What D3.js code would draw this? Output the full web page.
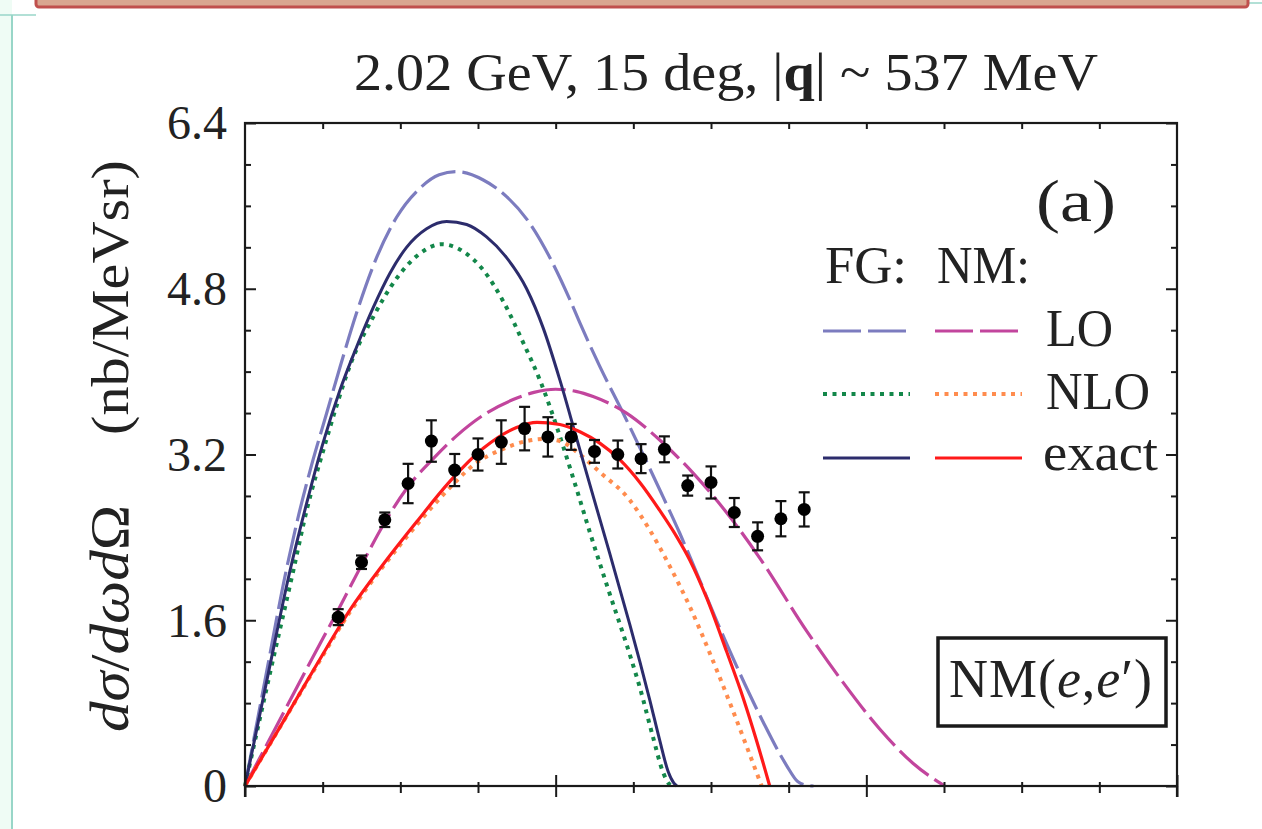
<!DOCTYPE html>
<html><head><meta charset="utf-8">
<script src="https://cdnjs.cloudflare.com/ajax/libs/d3/7.8.5/d3.min.js"></script>
<style>
html,body{margin:0;padding:0;background:#fff;}
svg{display:block;}
text{font-family:"Liberation Serif","Times New Roman",serif;fill:#222;}
</style></head>
<body>
<svg id="chart" width="1262" height="829"></svg>
<script>
// ---- data (omega in MeV, cross section in nb/MeV sr) ----
const fgLO = [[0,0],[13,1.03],[26.8,2.1],[34.3,2.6],[42.9,3.1],[52.6,3.6],[61.1,4.04],[71.9,4.57],[84.7,5.1],[97.6,5.49],[112.6,5.77],[125,5.9],[136.2,5.93],[153.4,5.85],[168.4,5.69],[183.4,5.43],[196.3,5.1],[209,4.7],[215.6,4.47],[228.4,4.05],[243.4,3.6],[256.3,3.2],[267,2.86],[279.9,2.44],[290.7,2.06],[303.5,1.6],[318.5,1.09],[333.5,0.62],[348.6,0.2],[356,0.04],[362,0.005],[366,0]];
const fgNLO = [[0,0],[15.5,1.05],[31.1,2.08],[40,2.68],[50.4,3.24],[60,3.72],[67.6,4.06],[82.6,4.53],[97.6,4.9],[112.6,5.14],[126.6,5.23],[140.5,5.16],[153.4,4.98],[166.2,4.68],[179.1,4.28],[189.8,3.92],[196.3,3.66],[204.8,3.28],[213.4,2.87],[222,2.45],[232.7,1.95],[247.7,1.27],[254.2,0.95],[262.7,0.47],[269.2,0.13],[273,0.02],[275,0]];
const fgExact = [[0,0],[14.5,1.05],[29,2.08],[39.7,2.73],[50.4,3.32],[61.1,3.82],[71.9,4.24],[82.6,4.62],[93.3,4.95],[104,5.2],[116.9,5.38],[129.8,5.45],[142.7,5.42],[155.5,5.3],[168.4,5.1],[181.3,4.8],[192,4.42],[202.7,3.92],[213.4,3.36],[224.1,2.8],[234.9,2.24],[247.7,1.56],[254.2,1.2],[260.6,0.83],[267,0.44],[272.4,0.14],[276,0.03],[278,0]];
const nmLO = [[0,0],[20,0.57],[40,1.14],[60,1.7],[74.6,2.12],[89,2.52],[104,2.87],[121.2,3.16],[136.2,3.38],[155.5,3.6],[172.6,3.73],[186,3.8],[200,3.83],[213,3.81],[224.1,3.76],[245.6,3.6],[267,3.34],[288.5,3.02],[310,2.64],[331.4,2.2],[361.4,1.5],[385,1.0],[408.6,0.55],[430,0.22],[450.4,0]];
const nmNLO = [[0,0],[23,0.58],[46.1,1.16],[67.6,1.68],[89,2.12],[110.5,2.52],[131.9,2.88],[149,3.12],[164,3.24],[181.3,3.33],[192,3.35],[202.7,3.33],[215.6,3.2],[228.4,3.03],[247.7,2.76],[260.6,2.47],[273.5,2.12],[286.4,1.73],[299.3,1.28],[312.2,0.8],[323,0.38],[332.6,0]];
const nmExact = [[0,0],[23,0.58],[46.1,1.17],[67.6,1.7],[89,2.14],[110.5,2.55],[131.9,2.94],[153.4,3.26],[174.8,3.46],[188,3.51],[202.7,3.49],[215.6,3.42],[228.4,3.31],[241.3,3.15],[254.2,2.93],[267,2.66],[277.8,2.41],[286.4,2.18],[297.1,1.82],[310,1.3],[320.7,0.85],[329.3,0.44],[337.8,0]];

const dataOmega = [60,75,90,105,120,135,150,165,180,195,210,225,240,255,270,285,300,315,330,345,360];
const dataSigma = [1.63,2.16,2.57,2.92,3.33,3.05,3.20,3.32,3.45,3.37,3.37,3.23,3.20,3.16,3.25,2.90,2.93,2.64,2.41,2.58,2.67];
const dataError = [0.077,0.065,0.07,0.19,0.2,0.155,0.155,0.21,0.21,0.19,0.125,0.11,0.135,0.14,0.125,0.097,0.155,0.14,0.135,0.17,0.165];

const yMajorTicks = [0,1.6,3.2,4.8,6.4];
const yTickLabels = ["0","1.6","3.2","4.8","6.4"];
const xMajorTicks = [0,200,400,600];

const legendRows = ["LO","NLO","exact"];

// ---- layout ----
const svg = d3.select("#chart");
const L = 245, R = 1177, T = 123, B = 786;
const x = d3.scaleLinear().domain([0,600]).range([L,R]);
const y = d3.scaleLinear().domain([0,6.4]).range([B,T]);

// page decoration
svg.append("rect").attr("x",0).attr("y",0).attr("width",12).attr("height",829).attr("fill","#effcf5");
svg.append("line").attr("x1",12).attr("x2",12).attr("y1",15).attr("y2",829).attr("stroke","#98d6c8").attr("stroke-width",2);
svg.append("line").attr("x1",0).attr("x2",36).attr("y1",15).attr("y2",15).attr("stroke","#98d6c8").attr("stroke-width",1.5);
svg.append("line").attr("x1",1248).attr("x2",1262).attr("y1",3).attr("y2",3).attr("stroke","#98d6c8").attr("stroke-width",1.5);
svg.append("rect").attr("x",36).attr("y",-8).attr("width",1212).attr("height",15).attr("rx",3)
  .attr("fill","#d9a690").attr("stroke","#c0504d").attr("stroke-width",3);

const styles = {
  fgLO:   {c:"#7c7cbf", dash:"38,7", w:3.2},
  fgNLO:  {c:"#13874a", dash:"4,5.5", w:4},
  fgExact:{c:"#2c2c6c", dash:null, w:3},
  nmLO:   {c:"#c2459d", dash:"38,7", w:3.2},
  nmNLO:  {c:"#ff8c4e", dash:"4,5.5", w:4},
  nmExact:{c:"#ff1a1a", dash:null, w:3.2}
};

const line = d3.line().x(d=>x(d[0])).y(d=>y(d[1])).curve(d3.curveMonotoneX);
const curves = [["fgLO",fgLO],["nmLO",nmLO],["fgNLO",fgNLO],["nmNLO",nmNLO],["fgExact",fgExact],["nmExact",nmExact]];
const gc = svg.append("g");
curves.forEach(([k,arr])=>{
  const s = styles[k];
  gc.append("path").datum(arr).attr("d",line).attr("fill","none")
    .attr("stroke",s.c).attr("stroke-width",s.w)
    .attr("stroke-dasharray",s.dash)
    .attr("stroke-linejoin","round");
});

// data points
const gp = svg.append("g");
dataOmega.forEach((w,i)=>{
  const cx = x(w), y1 = y(dataSigma[i]-dataError[i]), y2 = y(dataSigma[i]+dataError[i]);
  gp.append("line").attr("x1",cx).attr("x2",cx).attr("y1",y1).attr("y2",y2).attr("stroke","#111").attr("stroke-width",2.2);
  gp.append("line").attr("x1",cx-5.5).attr("x2",cx+5.5).attr("y1",y1).attr("y2",y1).attr("stroke","#111").attr("stroke-width",2.2);
  gp.append("line").attr("x1",cx-5.5).attr("x2",cx+5.5).attr("y1",y2).attr("y2",y2).attr("stroke","#111").attr("stroke-width",2.2);
  gp.append("circle").attr("cx",cx).attr("cy",y(dataSigma[i])).attr("r",6.5).attr("fill","#000");
});

// axes
const minorX = d3.range(0,601,50).filter(v=>!xMajorTicks.includes(v));
const minorY = d3.range(0,6.41,0.4).map(v=>+v.toFixed(1)).filter(v=>!yMajorTicks.includes(v));
function styleAxis(g){ g.select(".domain").remove(); g.selectAll("line").attr("stroke","#1a1a1a").attr("stroke-width",2); }
// bottom
svg.append("g").attr("transform",`translate(0,${B})`).call(d3.axisBottom(x).tickValues(minorX).tickSize(7).tickFormat("")).call(styleAxis);
svg.append("g").attr("transform",`translate(0,${B})`).call(d3.axisBottom(x).tickValues(minorX).tickSize(-4).tickFormat("")).call(styleAxis);
svg.append("g").attr("transform",`translate(0,${B})`).call(d3.axisBottom(x).tickValues(xMajorTicks).tickSize(11).tickFormat("")).call(styleAxis);
svg.append("g").attr("transform",`translate(0,${B})`).call(d3.axisBottom(x).tickValues(xMajorTicks).tickSize(-11).tickFormat("")).call(styleAxis);
// top
svg.append("g").attr("transform",`translate(0,${T})`).call(d3.axisTop(x).tickValues(d3.range(50,600,50)).tickSize(-6).tickFormat("")).call(styleAxis);
// left
svg.append("g").attr("transform",`translate(${L},0)`).call(d3.axisLeft(y).tickValues(minorY).tickSize(-6).tickFormat("")).call(styleAxis);
const gl = svg.append("g").attr("transform",`translate(${L},0)`)
  .call(d3.axisLeft(y).tickValues(yMajorTicks).tickSize(-11).tickPadding(18).tickFormat((d,i)=>yTickLabels[i]))
  .call(styleAxis);
gl.selectAll("text").attr("font-family","Liberation Serif").attr("font-size",48).attr("fill","#222").attr("dy","0.33em");
// right
svg.append("g").attr("transform",`translate(${R},0)`).call(d3.axisRight(y).tickValues(minorY).tickSize(-6).tickFormat("")).call(styleAxis);
svg.append("g").attr("transform",`translate(${R},0)`).call(d3.axisRight(y).tickValues(yMajorTicks).tickSize(-11).tickFormat("")).call(styleAxis);
// frame
svg.append("rect").attr("x",L).attr("y",T).attr("width",R-L).attr("height",B-T).attr("fill","none").attr("stroke","#1a1a1a").attr("stroke-width",2.2);
svg.append("line").attr("x1",L).attr("x2",L).attr("y1",B).attr("y2",B+11).attr("stroke","#1a1a1a").attr("stroke-width",2.2);
svg.append("line").attr("x1",R).attr("x2",R).attr("y1",B).attr("y2",B+11).attr("stroke","#1a1a1a").attr("stroke-width",2.2);

// title
const tt = svg.append("text").attr("x",354).attr("y",90).attr("font-size",52).attr("textLength",744).attr("lengthAdjust","spacingAndGlyphs");
tt.append("tspan").text("2.02 GeV, 15 deg, |");
tt.append("tspan").attr("font-weight","bold").text("q");
tt.append("tspan").text("| ~  537 MeV");

// y title
const yt = svg.append("g").attr("transform","translate(128,0) rotate(-90)");
const yt1 = yt.append("text").attr("x",-732).attr("y",0).attr("font-size",54).attr("textLength",227).attr("lengthAdjust","spacingAndGlyphs");
yt1.append("tspan").attr("font-style","italic").text("dσ");
yt1.append("tspan").text("/");
yt1.append("tspan").attr("font-style","italic").text("dωd");
yt1.append("tspan").text("Ω");
yt.append("text").attr("x",-435).attr("y",0).attr("font-size",52).attr("textLength",275).attr("lengthAdjust","spacingAndGlyphs").text("(nb/MeVsr)");

// panel label
svg.append("text").attr("x",1036).attr("y",221).attr("font-size",60).attr("textLength",80).attr("lengthAdjust","spacingAndGlyphs").text("(a)");

// legend
svg.append("text").attr("x",825).attr("y",283).attr("font-size",52).attr("textLength",82).attr("lengthAdjust","spacingAndGlyphs").text("FG:");
svg.append("text").attr("x",937).attr("y",283).attr("font-size",52).attr("textLength",93).attr("lengthAdjust","spacingAndGlyphs").text("NM:");
const legY = [331,394,458], legBase=[346,409,470], legX=[1046,1046,1043], legW=[67,104,115];
const fgKeys=["fgLO","fgNLO","fgExact"], nmKeys=["nmLO","nmNLO","nmExact"];
legendRows.forEach((lab,i)=>{
  [[fgKeys[i],823,910],[nmKeys[i],935,1022]].forEach(([k,a,b])=>{
    const s=styles[k];
    svg.append("line").attr("x1",a).attr("x2",b).attr("y1",legY[i]).attr("y2",legY[i])
      .attr("stroke",s.c).attr("stroke-width",s.w).attr("stroke-dasharray",s.dash);
  });
  svg.append("text").attr("x",legX[i]).attr("y",legBase[i]).attr("font-size",52)
    .attr("textLength",legW[i]).attr("lengthAdjust","spacingAndGlyphs").text(lab);
});

// NM(e,e') box
svg.append("rect").attr("x",938).attr("y",638).attr("width",228).attr("height",88).attr("fill","#fff").attr("stroke","#1a1a1a").attr("stroke-width",3.5);
svg.append("text").attr("x",949).attr("y",697).attr("font-size",54).attr("textLength",203).attr("lengthAdjust","spacing")
  .html('NM(<tspan font-style="italic">e</tspan>,<tspan font-style="italic">e</tspan>′)');
</script>
</body></html>
